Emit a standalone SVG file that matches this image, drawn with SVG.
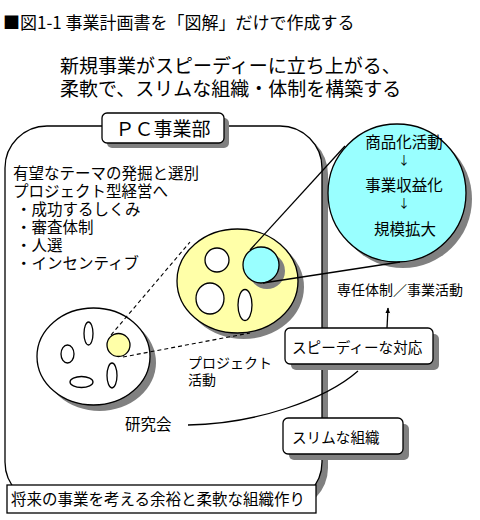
<svg xmlns="http://www.w3.org/2000/svg" width="480" height="520" viewBox="0 0 480 520">
<defs>
<style>
text{font-family:"Noto Sans CJK JP","Noto Sans",sans-serif;fill:#000}
.ln{fill:none;stroke:#000;stroke-width:1.3}
.dash{fill:none;stroke:#000;stroke-width:1.1;stroke-dasharray:4 3}
.sh{fill:#808080}
.w{fill:#fff;stroke:#000;stroke-width:1.3}
.y{fill:#ffffa8;stroke:#000;stroke-width:1.3}
.c{fill:#99ffff;stroke:#000;stroke-width:1.3}
</style>
<marker id="ah" viewBox="0 0 10 10" refX="9" refY="5" markerWidth="6" markerHeight="7" orient="auto-start-reverse" markerUnits="userSpaceOnUse">
<path d="M0,1 L10,5 L0,9 Z" fill="#000"/>
</marker>
</defs>
<rect width="480" height="520" fill="#fff"/>
<g id="title">
<text x="3" y="29" font-size="17">■図1-1 事業計画書を「図解」だけで作成する</text>
<text x="60" y="73" font-size="19">新規事業がスピーディーに立ち上がる、</text>
<text x="60" y="96" font-size="19">柔軟で、スリムな組織・体制を構築する</text>
</g>
<g id="pc-division">
<rect class="sh" x="11" y="132" width="317" height="378" rx="42"/>
<rect class="w" x="5" y="126" width="317" height="378" rx="42"/>
<rect class="sh" x="107" y="118" width="122" height="30" rx="5"/>
<rect class="w" x="102" y="113" width="122" height="30" rx="5"/>
<text x="163" y="136" font-size="19" text-anchor="middle">ＰＣ事業部</text>
</g>
<g id="policy-text" font-size="15.5">
<text x="13" y="179">有望なテーマの発掘と選別</text>
<text x="13" y="197">プロジェクト型経営へ</text>
<text x="16" y="215">・成功するしくみ</text>
<text x="16" y="233">・審査体制</text>
<text x="16" y="251">・人選</text>
<text x="16" y="269">・インセンティブ</text>
</g>
<g id="study-group">
<ellipse class="sh" cx="99.5" cy="362.5" rx="56.5" ry="48.5"/>
<ellipse class="w" cx="93.5" cy="356.5" rx="56.5" ry="48.5"/>
<ellipse class="w" cx="88.5" cy="333.5" rx="4.5" ry="11.5"/>
<ellipse class="w" cx="67.5" cy="354" rx="6.5" ry="9"/>
<ellipse class="w" cx="81.5" cy="382" rx="11.5" ry="5.5"/>
<ellipse class="w" cx="112" cy="375.5" rx="5" ry="12.5"/>
<circle class="y" cx="118.5" cy="345" r="11.5"/>
<text x="125" y="430" font-size="15.5">研究会</text>
</g>
<g id="project">
<ellipse class="sh" cx="243.5" cy="287" rx="60.5" ry="52"/>
<ellipse class="y" cx="237.5" cy="281" rx="60.5" ry="52"/>
<circle class="w" cx="217" cy="260" r="12"/>
<ellipse class="w" cx="210" cy="298.5" rx="14" ry="15.5"/>
<ellipse class="w" cx="245" cy="305" rx="7" ry="15.5"/>
<circle class="sh" cx="267" cy="271" r="18"/>
<circle class="c" cx="261" cy="265" r="18"/>
<text x="188" y="368" font-size="14">プロジェクト</text>
<text x="188" y="385" font-size="14">活動</text>
</g>
<g id="business">
<circle class="sh" cx="403" cy="199" r="69"/>
<circle class="c" cx="397" cy="193" r="69"/>
<g font-size="15.5" text-anchor="middle">
<text x="404" y="148">商品化活動</text>
<text x="404" y="165" font-size="12">↓</text>
<text x="404" y="191">事業収益化</text>
<text x="404" y="208" font-size="12">↓</text>
<text x="405" y="235">規模拡大</text>
</g>
</g>
<g id="dedicated-label">
<text x="337" y="295" font-size="14">専任体制／事業活動</text>
</g>
<g id="connectors">
<line class="dash" x1="111" y1="335" x2="190" y2="242"/>
<line class="dash" x1="123" y1="357" x2="250" y2="333"/>
<line class="ln" x1="250" y1="250" x2="345" y2="146"/>
<line class="ln" x1="263" y1="283" x2="400" y2="262"/>
<path class="ln" d="M188,425 C255,424 325,400 358,371"/>
<line class="ln" x1="387" y1="328" x2="388" y2="308" marker-end="url(#ah)"/>
</g>
<g id="speedy">
<rect class="sh" x="291" y="334" width="148" height="36" rx="5"/>
<rect class="w" x="285" y="328" width="148" height="36" rx="5"/>
<text x="292" y="353" font-size="14.6">スピーディーな対応</text>
</g>
<g id="slim">
<rect class="sh" x="289" y="424" width="120" height="36" rx="5"/>
<rect class="w" x="283" y="418" width="120" height="36" rx="5"/>
<text x="292" y="443" font-size="14.6">スリムな組織</text>
</g>
<g id="future">
<rect class="w" x="7" y="485" width="309" height="28"/>
<text x="11" y="505" font-size="15.5">将来の事業を考える余裕と柔軟な組織作り</text>
</g>
</svg>
